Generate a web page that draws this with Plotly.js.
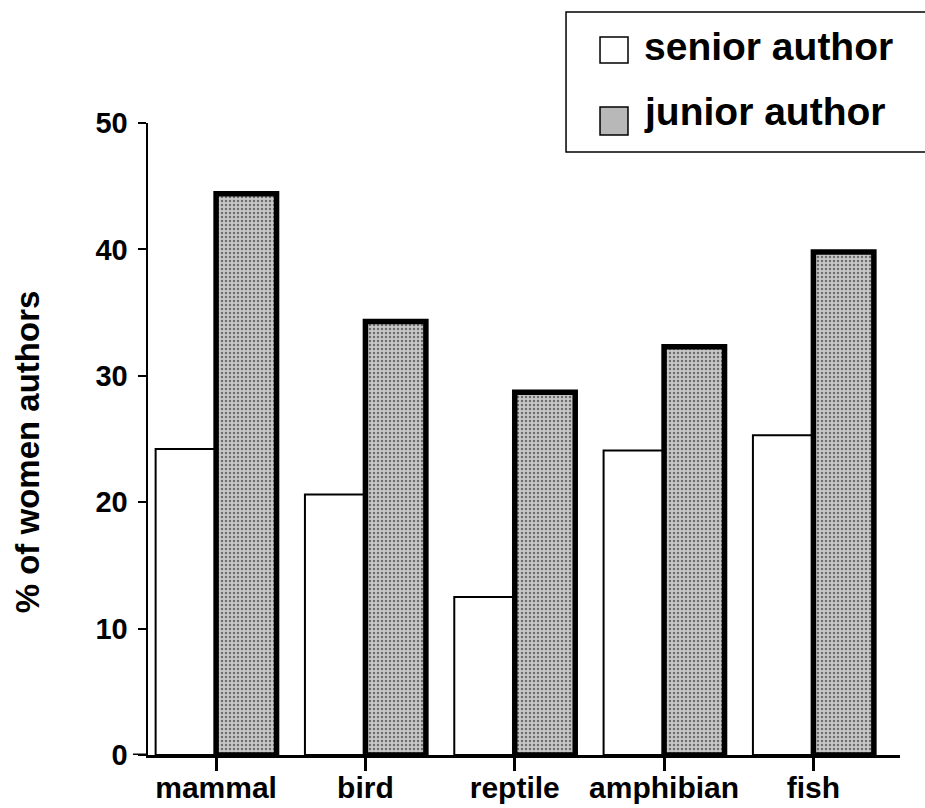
<!DOCTYPE html>
<html>
<head>
<meta charset="utf-8">
<script src="https://cdn.plot.ly/plotly-3.0.1.min.js"></script>
<style>html,body{margin:0;padding:0;background:#fff;}#chart{width:925px;height:808px;}</style>
</head>
<body>
<div id="chart"></div>
<script>
const categories = ["mammal", "bird", "reptile", "amphibian", "fish"];
const seniorAuthor = [24.2, 20.6, 12.5, 24.1, 25.3];
const juniorAuthor = [44.4, 34.3, 28.7, 32.3, 39.8];
const seriesNames = ["senior author", "junior author"];
const yTickValues = [0, 10, 20, 30, 40, 50];

const FONT = "Liberation Sans, Arial, Helvetica, sans-serif";
const SENIOR_FILL = "#ffffff";
const JUNIOR_FILL = "#b8b8b8";

const traces = [
  {
    type: "bar", name: seriesNames[0], x: categories, y: seniorAuthor,
    marker: {color: SENIOR_FILL, line: {color: "#000000", width: 2}}
  },
  {
    type: "bar", name: seriesNames[1], x: categories, y: juniorAuthor,
    marker: {color: JUNIOR_FILL, line: {color: "#000000", width: 5.5},
             pattern: {shape: ".", fgcolor: "#6e6e6e", bgcolor: "#c8c8c8", size: 4, solidity: 0.3}}
  }
];

// manual legend (paper coordinates) so the key squares can match the original size
const legendShapes = [
  {type: "rect", xref: "paper", yref: "paper", x0: 0.5559, x1: 1.06, y0: 0.9542, y1: 1.1755,
   line: {color: "#000", width: 1.5}, fillcolor: "#ffffff", layer: "above"},
  {type: "rect", xref: "paper", yref: "paper", x0: 0.6011, x1: 0.6383, y0: 1.0949, y1: 1.1360,
   line: {color: "#000", width: 1.5}, fillcolor: SENIOR_FILL, layer: "above"},
  {type: "rect", xref: "paper", yref: "paper", x0: 0.6011, x1: 0.6383, y0: 0.9810, y1: 1.0253,
   line: {color: "#000", width: 1.5}, fillcolor: JUNIOR_FILL, layer: "above"},
  // short stub of the x-axis line left of the y-axis, as in the original
  {type: "line", xref: "paper", yref: "y", x0: -0.02, x1: 0, y0: 0, y1: 0,
   line: {color: "#000", width: 3}}
];

const layout = {
  width: 925, height: 808,
  paper_bgcolor: "#ffffff", plot_bgcolor: "#ffffff",
  margin: {l: 148, r: 25, t: 123, b: 53, autoexpand: false},
  barmode: "group", bargap: 0.19, bargroupgap: 0,
  showlegend: false,
  xaxis: {
    type: "category", range: [-0.456, 4.58],
    showline: true, linecolor: "#000", linewidth: 3,
    ticks: "outside", ticklen: 13, tickwidth: 3, tickcolor: "#000",
    showgrid: false, zeroline: false, ticklabelstandoff: -9,
    tickfont: {family: FONT, size: 30, color: "#000", weight: "bold"}
  },
  yaxis: {
    range: [0, 50], tickvals: yTickValues,
    showline: true, linecolor: "#000", linewidth: 2.5,
    ticks: "outside", ticklen: 8, tickwidth: 2, tickcolor: "#000",
    showgrid: false, zeroline: false, ticklabelstandoff: 4,
    tickfont: {family: FONT, size: 29, color: "#000", weight: "bold"}
  },
  shapes: legendShapes,
  annotations: [
    {
      xref: "paper", yref: "paper", x: -0.16, y: 0.48, xanchor: "center", yanchor: "middle",
      text: "% of women authors", textangle: -90, showarrow: false,
      font: {family: FONT, size: 33, color: "#000", weight: "bold"}
    },
    {
      xref: "paper", yref: "paper", x: 0.657, y: 1.121, xanchor: "left", yanchor: "middle",
      text: seriesNames[0], showarrow: false,
      font: {family: FONT, size: 39, color: "#000", weight: "bold"}
    },
    {
      xref: "paper", yref: "paper", x: 0.657, y: 1.018, xanchor: "left", yanchor: "middle",
      text: seriesNames[1], showarrow: false,
      font: {family: FONT, size: 39, color: "#000", weight: "bold"}
    }
  ]
};

Plotly.newPlot("chart", traces, layout, {displayModeBar: false, staticPlot: true});
</script>
</body>
</html>
